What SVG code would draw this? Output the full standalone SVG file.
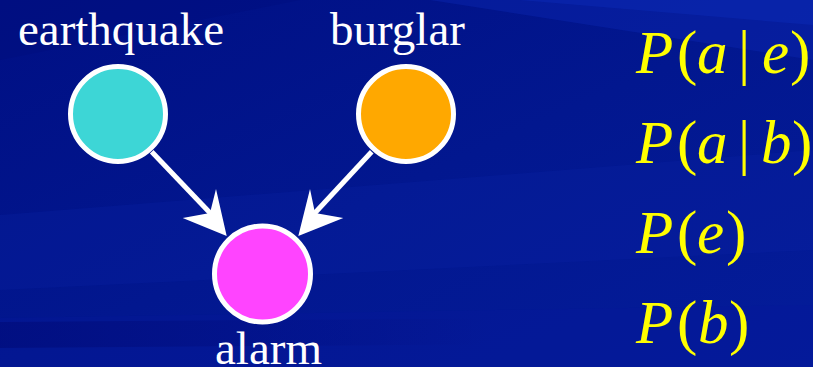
<svg xmlns="http://www.w3.org/2000/svg" width="813" height="367" viewBox="0 0 813 367">
<defs>
<linearGradient id="bg" x1="0" y1="0" x2="1" y2="1">
<stop offset="0" stop-color="#000f84"/>
<stop offset="0.5" stop-color="#02178f"/>
<stop offset="1" stop-color="#041c9a"/>
</linearGradient>
<linearGradient id="fade" x1="0" y1="0" x2="1" y2="0">
<stop offset="0" stop-color="#000a78" stop-opacity="0.6"/>
<stop offset="0.6" stop-color="#000a78" stop-opacity="0"/>
</linearGradient>
<style>
.lbl{font-family:"Liberation Serif","Times New Roman",serif;font-size:47px;fill:#ffffff;text-anchor:middle}
.node{stroke:#ffffff;stroke-width:5}
.eq{font-family:"Liberation Serif","Times New Roman",serif;font-size:61px;fill:#ffff00}
.it{font-style:italic}
.edge{stroke:#ffffff;stroke-width:5;fill:none}
.head{fill:#ffffff}
</style>
</defs>
<rect width="813" height="367" fill="url(#bg)"/>
<polygon points="430,0 813,0 813,60" fill="#0a26b0" opacity="0.45"/>
<polygon points="520,0 813,0 813,25" fill="#0c2cbc" opacity="0.4"/>
<polygon points="0,215 813,150 813,250 0,290" fill="#0a22a6" opacity="0.25"/>
<polygon points="0,318 813,305 813,367 0,367" fill="#06169a" opacity="0.3"/>
<polygon points="0,322 813,316 813,342 0,348" fill="url(#fade)"/>
<polygon points="0,0 300,0 0,60" fill="#000c7a" opacity="0.3"/>

<g id="connectors">
<line class="edge" x1="151.7" y1="151.7" x2="212" y2="215"/>
<polygon class="head" points="226.7,236 182.7,218 210,213 216,189"/>
<line class="edge" x1="371.7" y1="151.7" x2="313" y2="215"/>
<polygon class="head" points="298.3,236 343.3,218 315,213 310,189"/>
</g>

<g id="earthquake">
<circle class="node" cx="118" cy="114" r="47.5" fill="#3dd6d6"/>
<text class="lbl" x="121" y="45">earthquake</text>
</g>
<g id="burglar">
<circle class="node" cx="406" cy="114" r="47.5" fill="#ffa800"/>
<text class="lbl" x="397.5" y="45">burglar</text>
</g>
<g id="alarm">
<circle class="node" cx="262.5" cy="274" r="48" fill="#ff44ff"/>
<text class="lbl" x="268.5" y="364">alarm</text>
</g>

<g id="formulas">
<text class="eq" y="73"><tspan class="it" x="636">P</tspan><tspan x="677">(</tspan><tspan class="it" x="697">a</tspan><tspan x="738">|</tspan><tspan class="it" x="762">e</tspan><tspan x="790">)</tspan></text>
<text class="eq" y="163"><tspan class="it" x="636">P</tspan><tspan x="677">(</tspan><tspan class="it" x="697">a</tspan><tspan x="738">|</tspan><tspan class="it" x="761">b</tspan><tspan x="792">)</tspan></text>
<text class="eq" y="253"><tspan class="it" x="636">P</tspan><tspan x="677">(</tspan><tspan class="it" x="697">e</tspan><tspan x="726">)</tspan></text>
<text class="eq" y="343"><tspan class="it" x="636">P</tspan><tspan x="677">(</tspan><tspan class="it" x="698">b</tspan><tspan x="729">)</tspan></text>
</g>
</svg>
